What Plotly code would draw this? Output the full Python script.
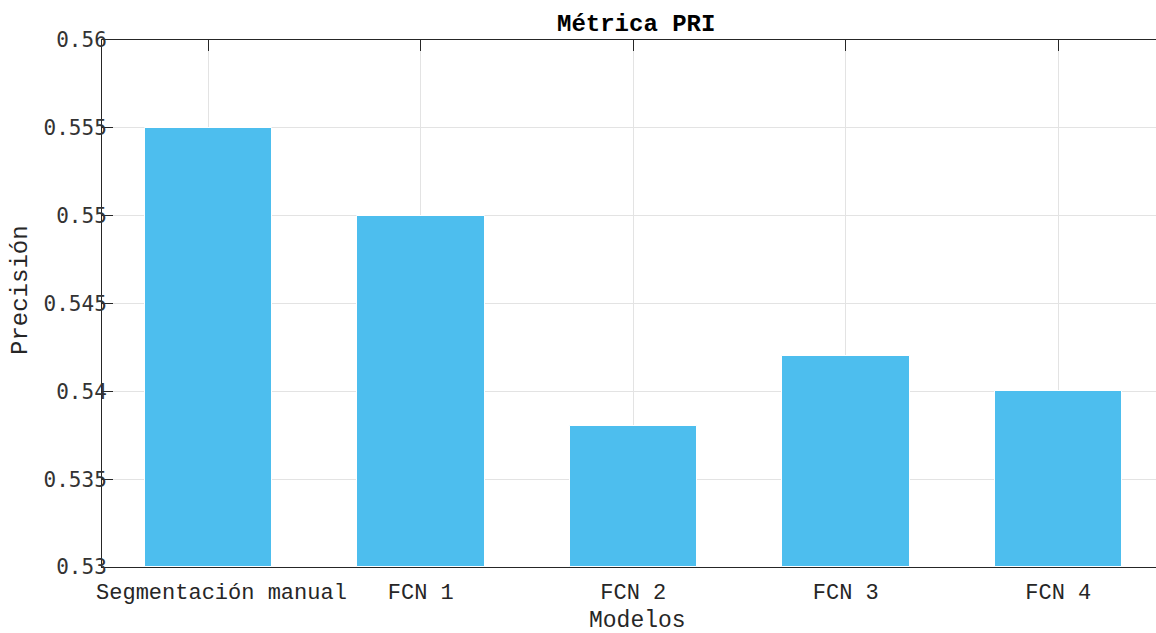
import plotly.graph_objects as go

# PRI scores per model
modelos = ["Segmentación manual", "FCN 1", "FCN 2", "FCN 3", "FCN 4"]
precision = [0.555, 0.550, 0.538, 0.542, 0.540]
y_ticks = [0.53, 0.535, 0.54, 0.545, 0.55, 0.555, 0.56]
y_tick_labels = ["0.53", "0.535", "0.54", "0.545", "0.55", "0.555", "0.56"]
y_floor = 0.53

x_pos = list(range(1, len(modelos) + 1))
x_labels = ["\u00a0\u00a0" + modelos[0]] + modelos[1:]

W, H = 1156, 633
ML, MT, MB, MR = 102, 40, 66, 0
plot_w = W - ML - MR
plot_h = H - MT - MB
cat_px = 212.5  # pixels per category step

text_col = "#262626"
mono = "Liberation Mono, Courier New, monospace"

# bars rise from the axis floor to each score
fig = go.Figure(
    go.Bar(
        x=x_pos,
        y=[v - y_floor for v in precision],
        base=y_floor,
        width=0.6,
        marker=dict(color="#4DBEEE", line=dict(color="white", width=1)),
        customdata=precision,
        hovertemplate="%{customdata}<extra></extra>",
    )
)

fig.update_layout(
    width=W,
    height=H,
    margin=dict(l=ML, r=MR, t=MT, b=MB),
    plot_bgcolor="white",
    paper_bgcolor="white",
    showlegend=False,
    bargap=0,
)

fig.update_xaxes(
    range=[0.5, 0.5 + plot_w / cat_px],
    tickmode="array",
    tickvals=x_pos,
    ticktext=x_labels,
    ticks="inside",
    ticklen=11,
    tickwidth=1,
    tickcolor=text_col,
    showline=True,
    linecolor=text_col,
    linewidth=1,
    mirror="ticks",
    showgrid=True,
    gridcolor="#e3e3e3",
    gridwidth=1,
    zeroline=False,
    layer="below traces",
    ticklabelstandoff=5,
    tickfont=dict(family=mono, size=22, color=text_col),
)

fig.update_yaxes(
    range=[0.53, 0.56],
    tickmode="array",
    tickvals=y_ticks,
    ticktext=y_tick_labels,
    ticks="inside",
    ticklen=11,
    tickwidth=1,
    tickcolor=text_col,
    showline=True,
    linecolor=text_col,
    linewidth=1,
    mirror=False,
    showgrid=True,
    gridcolor="#e3e3e3",
    gridwidth=1,
    zeroline=False,
    ticklabelstandoff=-10,
    tickfont=dict(family="DejaVu Sans Mono, monospace", size=21, color="#333333"),
)


def px_x(px):
    return (px - ML) / plot_w


def px_y(py):
    return (H - MB - py) / plot_h


fig.add_annotation(
    text="<b>Métrica PRI</b>", xref="paper", yref="paper",
    x=px_x(636), y=px_y(25), xanchor="center", yanchor="middle",
    showarrow=False, font=dict(family=mono, size=24, color="black"),
)
fig.add_annotation(
    text="Modelos", xref="paper", yref="paper",
    x=px_x(637), y=px_y(621), xanchor="center", yanchor="middle",
    showarrow=False, borderpad=0, font=dict(family=mono, size=23, color=text_col),
)
fig.add_annotation(
    text="Precisión", xref="paper", yref="paper",
    x=px_x(20), y=px_y(290), xanchor="center", yanchor="middle",
    textangle=-90, showarrow=False, font=dict(family=mono, size=24, color=text_col),
)

fig.write_html("out.html")
